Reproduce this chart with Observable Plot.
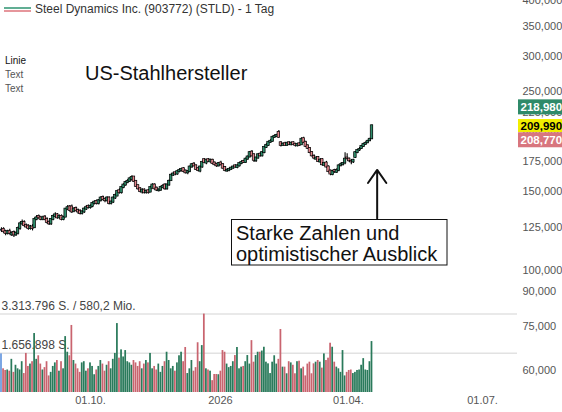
<!DOCTYPE html>
<html><head><meta charset="utf-8">
<script src="https://cdn.jsdelivr.net/npm/d3@7"></script>
<script src="https://cdn.jsdelivr.net/npm/@observablehq/plot@0.6"></script>
<style>
html,body{margin:0;padding:0;background:#fff;}
#wrap{position:relative;width:562px;height:412px;overflow:hidden;font-family:"Liberation Sans",Arial,sans-serif;background:#fff;}
#wrap svg{position:absolute;left:0;top:0;}
</style></head><body><div id="wrap"></div>
<script>
// prices in thousands (daily candles), volume in millions of shares
const openK = [123,123.5,122,121,122,120,121.5,120,121,124,
127,128,126,125.5,124,125,124.5,130,132,131,
130,131.5,130,128,127,130,132,133,131,132,
130,131.5,137,138.5,138.5,135.5,137.5,136,135.5,134,
135,137,139,138,139,141,142.5,141,143,145.5,
144,143,145,141,142,145,146.5,150.5,149,153,
155,157,158,159.5,161.5,158,154.5,152,149.5,151,
149,150.5,149.5,152.5,155,152.5,150.5,151,153,155,
152,155,158.5,163,165,164,166,167,168.5,166.5,
165,166,170,172.5,171,168.5,166.5,170,176.5,173.5,
176.5,174.5,176,173.5,172,171,173.5,172,169.5,166.5,
167,168,169,171,169.5,171,173,175,174,177,
179,183.5,181,175.5,178,181.5,180,183,188,190,
193,194,198,199,203,192.5,190,191.5,190,192.5,
190.5,192.5,191,189.5,191.5,190.5,196.5,193,189.5,187,
183,179.5,177,178.5,174.5,176.5,171.5,173.5,170,166.5,
163.5,167,165.5,167,171.5,172,173.5,178,177,175,
174.5,178.5,183,185.5,187,189,191,192.5,194.5,196.5];
const closeK = [123,122,121,122,121,121,120,121,124,127,
128,126,125,124,125,124,130,131,131,130,
131,130,128,127,130,132,133,131,132,130,
131,137,138,136,135,137,136,135,134,135,
137,138,138,139,141,142,141,143,145,144,
143,145,141,142,145,147,150,149,153,155,
157,158,160,161,158,154,152,150,151,149,
150,149,153,155,152,151,151,153,154,152,
155,158,163,164,164,166,167,168,166,165,
166,170,172,171,168,167,170,174,174,176,
175,176,173,172,171,173,172,169,167,167,
168,169,170,170,171,173,174,174,177,179,
183,180,176,178,181,180,183,188,190,193,
194,198,199,200,198,190,191,190,192,191,
192,191,190,191,190,196,193,189,187,183,
180,178,178,175,176,172,173,170,166,164,
166,166,167,171,172,173,177,177.5,175.5,174.5,
176,183,185,186,189,191,192,194,196,210];
const highK = [124.5,124.5,123,123,123.5,122,122.5,122,125,128,
129.5,129,127,126.5,126,126.5,131,132.5,133,132,
132,132.5,131,129,130.5,133,134.5,134,133,133,
132,137.5,139.5,139.5,140,138,138.5,137,136.5,136,
138,139.5,140,140,142,143,143.5,144,146,146.5,
145,146,146,143,146,148,151,152,154,156,
158,159.5,161,162.5,162,158.5,155,153,152,152,
151,151.5,154,156,156,153.5,152,154,155.5,156,
156,159,164,165.5,166,167,168.5,169,169.5,167.5,
167,171,173,174,172,169.5,171,175,177.5,177,
177.5,177,177,174.5,173,174,175,173,170.5,168.5,
169,170,171,172,172,174,175.5,176,178,180,
184,185,182,179,182,183,184,189,191.5,194,
195.5,199,200.5,201,205,193.5,192.5,193,193,193.5,
193,193.5,192,192,192.5,197.5,198,194,190.5,188,
184,181,179,179.5,177.5,177.5,174,175,171,167.5,
167,168,168.5,172,173.5,174,183,182,178,176.5,
177,184,186,188,190,192,193.5,195,197,211];
const lowK = [121.5,121,119.5,120,120,119,118.5,119,120,123,
126,125,124,123,123,122.5,124,129,130,129,
129,129,127,126,126,129,131,130,130,129,
129,131,136,135,134,134.5,135,133.5,133,133,
134,136,137,137,138,140,140,140,142,143,
141.5,142,140,140,141,144,146,148,148,152,
154,156,157,158,157,153,151,149,148,148,
148,148,149,152,151,150,149.5,150,152,151,
151,154,158,162,162.5,163,165,166,165,164,
163.5,165,169,170,167,166,165,169,173,172,
174,173.5,172,171,169.5,170,171,168,166,165.5,
166,167,168,169,168.5,170,172,173,173,176,
178,179,174,174,177,179,179,182,187,189,
192,193,197,198,197,188.5,189,189,189,190,
189.5,190,188.5,188.5,189,190,192,188,186,182,
179,176.5,176,174,173,171,170.5,169,165,162.5,
162.5,164.5,164.5,166,170,171,172,176,174,172,
173,177.5,182,184,186,188,190,191.5,193.5,195.5];
const volumeM = [1.63,1.0,0.93,0.95,0.9,1.4,0.85,1.15,1.0,0.95,
1.3,0.8,1.65,1.1,1.2,1.3,2.49,1.4,1.55,1.2,
0.95,1.05,1.3,0.7,0.85,1.1,1.25,1.35,0.9,1.3,
1.0,2.36,1.7,1.55,2.83,1.35,1.2,1.0,0.85,1.25,
1.3,0.9,1.0,1.25,1.1,0.75,0.95,1.1,1.35,1.2,
0.9,1.15,1.3,1.0,1.4,1.65,2.91,1.45,1.8,1.5,
1.77,1.3,1.25,1.15,1.35,1.25,1.1,1.3,1.0,1.2,
1.35,1.25,1.65,1.0,1.1,0.95,1.2,0.85,1.1,1.3,
1.7,1.35,1.0,1.1,0.9,1.25,1.55,1.7,1.3,1.9,
0.8,1.0,1.35,0.9,1.05,2.1,1.3,1.98,3.31,1.0,
0.95,0.9,0.5,0.76,0.76,0.75,0.9,1.77,1.7,1.2,
1.05,1.1,1.3,1.56,1.9,1.0,1.07,1.1,1.3,1.56,
1.2,2.19,1.28,1.56,1.7,1.7,1.75,1.91,1.28,1.21,
0.8,1.28,1.55,1.2,1.4,2.66,1.07,1.07,0.79,1.3,
1.25,1.15,0.79,1.3,1.32,1.0,1.07,0.7,1.2,1.28,
0.79,1.21,1.28,1.35,1.28,1.03,1.63,1.35,1.45,2.08,
1.91,1.28,1.07,1.0,0.85,1.77,0.7,0.85,0.93,0.95,
0.8,0.85,0.93,0.95,1.15,1.43,0.95,0.93,1.3,2.15];

const yTicks = [60000,75000,90000,100000,125000,150000,175000,200000,225000,250000,300000,350000,400000];
const xTickIndex = [43,105.8,167.6,232.4];
const xTickLabels = ["01.10.","2026","01.04.","01.07."];
const volLines = [3.313796,1.656898];
const volLineLabels = ["3.313.796 S. / 580,2 Mio.","1.656.898 S."];
const tagValues = [218980,209990,208770];
const tagLabels = ["218,980","209,990","208,770"];
const tagFills = ["#2f8a69","#f2ee00","#d8767e"];
const tagText = ["#ffffff","#000000","#ffffff"];
const tagShift = [-10.3,0.2,13.3];
const arrowData = [{x:181.5,y1:130600,y2:167500}];

const FONT = '"Liberation Sans",Arial,sans-serif';
const W = 562, H = 412, MR = 45;
const xDomain = [-0.48,249.3];
const candleColor = {up:"#2e8c6a",down:"#e3848c",flat:"#5b8fd6"};
const volColor = {up:"#2a7a5b",down:"#c9646f",flat:"#6a9ae0"};

const bars = closeK.map((c,i)=>({
  i, open:openK[i]*1000, close:c*1000, high:highK[i]*1000, low:lowK[i]*1000,
  vol:volumeM[i], dir: c>openK[i]?"up":(c<openK[i]?"down":"flat")
}));

const wrap = document.getElementById("wrap");

const volPlot = Plot.plot({
  width:W, height:H, marginTop:0, marginBottom:0, marginLeft:0, marginRight:MR,
  style:{background:"transparent", fontFamily:FONT, fontSize:"12px", color:"#444"},
  x:{domain:xDomain, axis:null},
  y:{domain:[0,3.313796], range:[392,313.5], axis:null},
  marks:[
    Plot.ruleY(volLines,{stroke:"#e2e2e2",strokeWidth:1.5}),
    Plot.text(volLines,{y:d=>d, text:(d,i)=>volLineLabels[i], frameAnchor:"left", textAnchor:"start", dx:1, dy:-8, fill:"#444", fontSize:12}),
    Plot.rect(bars,{x1:d=>d.i-0.42, x2:d=>d.i+0.42, y1:0, y2:"vol", fill:d=>volColor[d.dir]})
  ]
});
wrap.appendChild(volPlot);

const pricePlot = Plot.plot({
  width:W, height:H, marginTop:0, marginBottom:0, marginLeft:0, marginRight:MR,
  style:{background:"transparent", fontFamily:FONT, fontSize:"11px", color:"#555"},
  x:{domain:xDomain, axis:null},
  y:{type:"log", domain:[48280,399300], axis:null},
  marks:[
    Plot.axisY(yTicks,{anchor:"right", tickSize:0, tickPadding:5, tickFormat:d3.format(","), label:null, fill:"#555", fontSize:11}),
    Plot.text(xTickIndex,{x:d=>d, text:(d,i)=>xTickLabels[i], frameAnchor:"bottom", dy:-9, fill:"#555", fontSize:11}),
    Plot.ruleX(bars,{x:"i", y1:"low", y2:"high", stroke:"#000", strokeWidth:1.1}),
    Plot.rect(bars,{x1:d=>d.i-0.6, x2:d=>d.i+0.6, y1:"open", y2:"close", fill:d=>candleColor[d.dir], stroke:"#000", strokeWidth:0.7, insetTop:-0.5, insetBottom:-0.5}),
    Plot.arrow(arrowData,{x:"x", y1:"y1", y2:"y2", stroke:"#111", strokeWidth:2, headLength:12, headAngle:70})
  ]
});
wrap.appendChild(pricePlot);

const svg = d3.select(pricePlot);
const yS = pricePlot.scale("y");
const addText = (x,y,size,fill,str,weight) => svg.append("text")
  .attr("x",x).attr("y",y).attr("text-anchor","start")
  .attr("font-family",FONT).attr("font-size",size).attr("font-weight",weight||"normal")
  .attr("fill",fill).text(str);

// price tags on the right axis
tagValues.forEach((v,k)=>{
  const yc = yS.apply(v) + tagShift[k];
  const h = k===1 ? 13 : 15;
  svg.append("rect").attr("x",518).attr("y",yc-h/2).attr("width",44).attr("height",h).attr("fill",tagFills[k]);
  addText(520.5, yc+4.1, "11.5px", tagText[k], tagLabels[k], "bold");
});

// header
svg.append("line").attr("x1",4).attr("x2",31).attr("y1",8).attr("y2",8).attr("stroke","#3a9a7a").attr("stroke-width",1.6);
svg.append("line").attr("x1",4).attr("x2",31).attr("y1",11).attr("y2",11).attr("stroke","#e07c84").attr("stroke-width",1.6);
addText(35, 13, "12px", "#333", "Steel Dynamics Inc. (903772) (STLD) - 1 Tag");
addText(5, 64, "10px", "#111", "Linie");
addText(5, 78, "10px", "#555", "Text");
addText(5, 92, "10px", "#555", "Text");
addText(85, 79.5, "20px", "#111", "US-Stahlhersteller");

// annotation box
svg.append("rect").attr("x",231.5).attr("y",219.5).attr("width",215.5).attr("height",45.5).attr("fill","#fff").attr("stroke","#111").attr("stroke-width",1);
addText(236, 240, "20px", "#111", "Starke Zahlen und");
addText(236, 261, "20px", "#111", "optimistischer Ausblick");
</script>
</body></html>
